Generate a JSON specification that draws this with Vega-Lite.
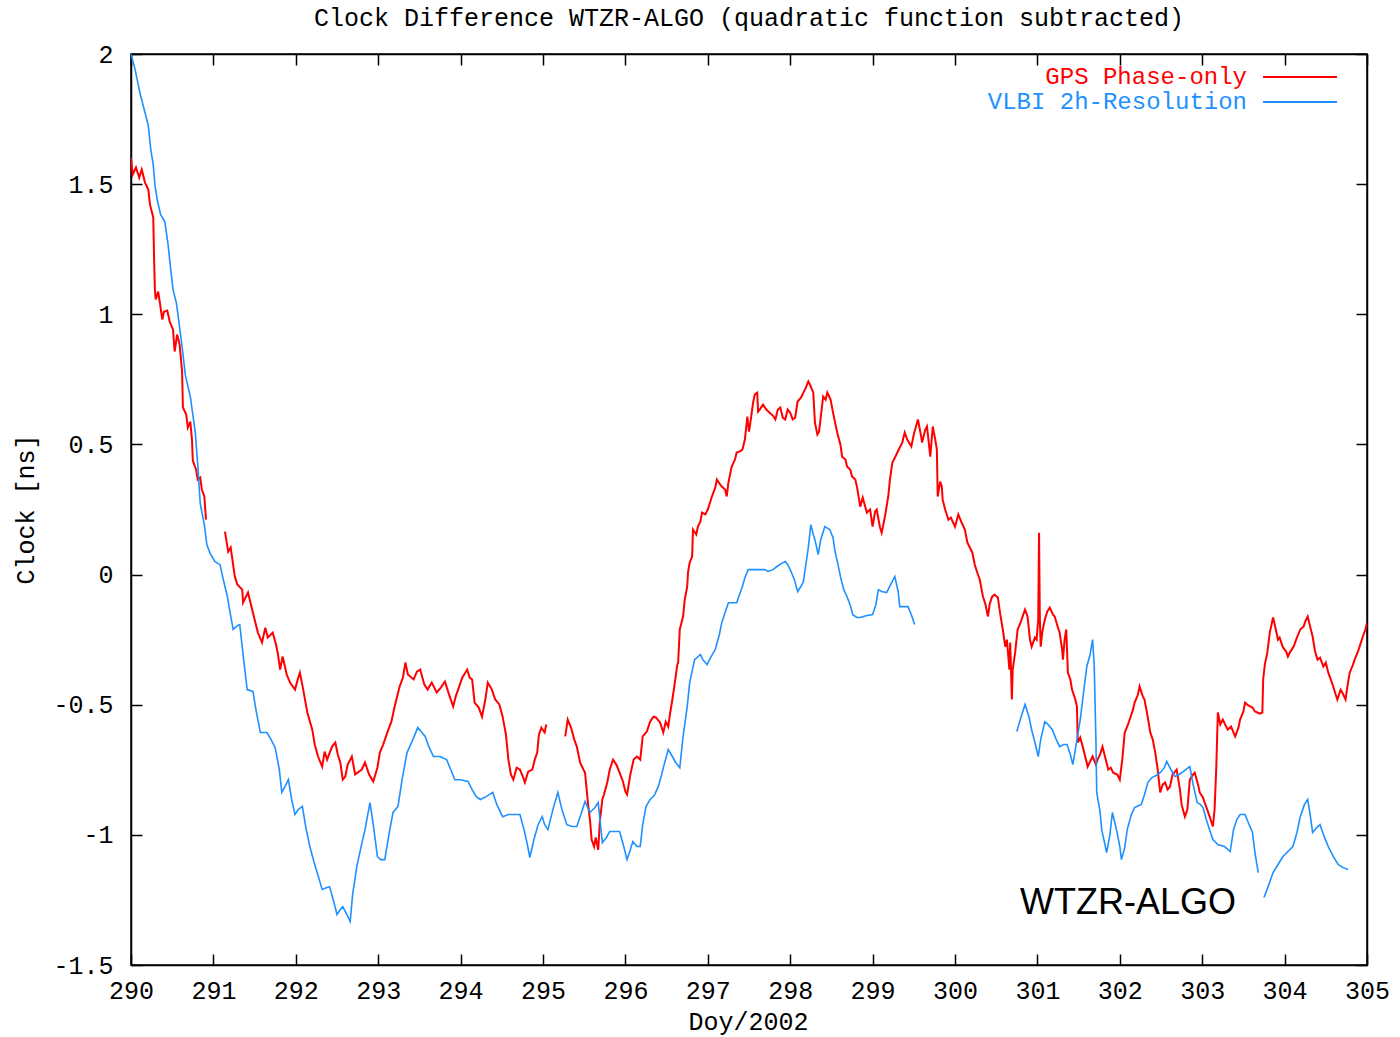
{
"$schema": "https://vega.github.io/schema/vega-lite/v6.json",
"width": 1236, "height": 911,
"autosize": {"type": "none"},
"padding": {"left": 131, "top": 54, "right": 33, "bottom": 72},
"background": "white",
"title": {"text": "Clock Difference WTZR-ALGO (quadratic function subtracted)", "font": "Liberation Mono", "fontSize": 25, "fontWeight": "normal", "color": "black", "anchor": "middle", "frame": "group", "offset": 8},
"config": {
  "view": {"stroke": "black", "strokeWidth": 1.5},
  "axis": {"grid": false, "domainColor": "black", "domainWidth": 1.5, "tickColor": "black", "tickWidth": 1.5, "tickSize": -11, "labelFont": "Liberation Mono", "labelFontSize": 25, "labelColor": "black", "titleFont": "Liberation Mono", "titleFontSize": 25, "titleFontWeight": "normal", "titleColor": "black", "labelOverlap": false, "labelFlush": false},
  "legend": {"orient": "none", "title": null, "padding": 0, "symbolType": "stroke", "symbolSize": 5476, "symbolStrokeWidth": 2, "labelAlign": "right", "labelOffset": -91, "labelFont": "Liberation Mono", "labelFontSize": 24, "labelLimit": 0}
},
"datasets": {
"gps": [
{"seg":1,"day":290.00,"clock":1.602},{"seg":1,"day":290.02,"clock":1.537},{"seg":1,"day":290.06,"clock":1.564},{"seg":1,"day":290.10,"clock":1.525},{"seg":1,"day":290.13,"clock":1.556},{"seg":1,"day":290.17,"clock":1.506},{"seg":1,"day":290.21,"clock":1.479},{"seg":1,"day":290.23,"clock":1.422},{"seg":1,"day":290.27,"clock":1.372},{"seg":1,"day":290.28,"clock":1.218},{"seg":1,"day":290.29,"clock":1.095},{"seg":1,"day":290.30,"clock":1.057},{"seg":1,"day":290.33,"clock":1.087},{"seg":1,"day":290.35,"clock":1.045},{"seg":1,"day":290.38,"clock":0.980},{"seg":1,"day":290.40,"clock":1.010},{"seg":1,"day":290.44,"clock":1.014},{"seg":1,"day":290.47,"clock":0.972},{"seg":1,"day":290.51,"clock":0.941},{"seg":1,"day":290.53,"clock":0.857},{"seg":1,"day":290.56,"clock":0.922},{"seg":1,"day":290.59,"clock":0.884},{"seg":1,"day":290.62,"clock":0.780},{"seg":1,"day":290.63,"clock":0.642},{"seg":1,"day":290.67,"clock":0.615},{"seg":1,"day":290.69,"clock":0.565},{"seg":1,"day":290.72,"clock":0.588},{"seg":1,"day":290.74,"clock":0.519},{"seg":1,"day":290.75,"clock":0.438},{"seg":1,"day":290.79,"clock":0.403},{"seg":1,"day":290.81,"clock":0.365},{"seg":1,"day":290.84,"clock":0.373},{"seg":1,"day":290.86,"clock":0.327},{"seg":1,"day":290.89,"clock":0.300},{"seg":1,"day":290.91,"clock":0.211},
{"seg":2,"day":291.14,"clock":0.165},{"seg":2,"day":291.18,"clock":0.088},{"seg":2,"day":291.21,"clock":0.104},{"seg":2,"day":291.26,"clock":-0.008},{"seg":2,"day":291.29,"clock":-0.038},{"seg":2,"day":291.35,"clock":-0.058},{"seg":2,"day":291.36,"clock":-0.108},{"seg":2,"day":291.42,"clock":-0.069},{"seg":2,"day":291.47,"clock":-0.134},{"seg":2,"day":291.50,"clock":-0.173},{"seg":2,"day":291.54,"clock":-0.223},{"seg":2,"day":291.59,"clock":-0.261},{"seg":2,"day":291.63,"clock":-0.204},{"seg":2,"day":291.66,"clock":-0.242},{"seg":2,"day":291.72,"clock":-0.223},{"seg":2,"day":291.76,"clock":-0.269},{"seg":2,"day":291.78,"clock":-0.300},{"seg":2,"day":291.81,"clock":-0.365},{"seg":2,"day":291.84,"clock":-0.315},{"seg":2,"day":291.89,"clock":-0.384},{"seg":2,"day":291.93,"clock":-0.415},{"seg":2,"day":291.99,"clock":-0.442},{"seg":2,"day":292.03,"clock":-0.396},{"seg":2,"day":292.05,"clock":-0.377},{"seg":2,"day":292.09,"clock":-0.442},{"seg":2,"day":292.14,"clock":-0.530},{"seg":2,"day":292.20,"clock":-0.596},{"seg":2,"day":292.23,"clock":-0.653},{"seg":2,"day":292.27,"clock":-0.699},{"seg":2,"day":292.32,"clock":-0.738},{"seg":2,"day":292.35,"clock":-0.680},{"seg":2,"day":292.38,"clock":-0.711},{"seg":2,"day":292.44,"clock":-0.661},{"seg":2,"day":292.48,"clock":-0.645},{"seg":2,"day":292.51,"clock":-0.692},{"seg":2,"day":292.54,"clock":-0.722},{"seg":2,"day":292.57,"clock":-0.788},{"seg":2,"day":292.60,"clock":-0.776},{"seg":2,"day":292.63,"clock":-0.730},{"seg":2,"day":292.68,"clock":-0.699},{"seg":2,"day":292.72,"clock":-0.768},{"seg":2,"day":292.75,"clock":-0.761},{"seg":2,"day":292.80,"clock":-0.749},{"seg":2,"day":292.84,"clock":-0.722},{"seg":2,"day":292.89,"clock":-0.768},{"seg":2,"day":292.94,"clock":-0.795},{"seg":2,"day":292.99,"clock":-0.742},{"seg":2,"day":293.02,"clock":-0.684},{"seg":2,"day":293.06,"clock":-0.653},{"seg":2,"day":293.11,"clock":-0.607},{"seg":2,"day":293.16,"clock":-0.565},{"seg":2,"day":293.20,"clock":-0.507},{"seg":2,"day":293.26,"clock":-0.430},{"seg":2,"day":293.30,"clock":-0.396},{"seg":2,"day":293.33,"clock":-0.338},{"seg":2,"day":293.36,"clock":-0.384},{"seg":2,"day":293.43,"clock":-0.403},{"seg":2,"day":293.47,"clock":-0.373},{"seg":2,"day":293.51,"clock":-0.365},{"seg":2,"day":293.56,"clock":-0.423},{"seg":2,"day":293.60,"clock":-0.442},{"seg":2,"day":293.65,"clock":-0.415},{"seg":2,"day":293.71,"clock":-0.453},{"seg":2,"day":293.76,"clock":-0.434},{"seg":2,"day":293.81,"clock":-0.411},{"seg":2,"day":293.86,"clock":-0.461},{"seg":2,"day":293.91,"clock":-0.507},{"seg":2,"day":293.94,"clock":-0.469},{"seg":2,"day":293.97,"clock":-0.442},{"seg":2,"day":294.02,"clock":-0.396},{"seg":2,"day":294.08,"clock":-0.365},{"seg":2,"day":294.11,"clock":-0.396},{"seg":2,"day":294.14,"clock":-0.403},{"seg":2,"day":294.17,"clock":-0.492},{"seg":2,"day":294.22,"clock":-0.511},{"seg":2,"day":294.26,"clock":-0.546},{"seg":2,"day":294.30,"clock":-0.480},{"seg":2,"day":294.33,"clock":-0.415},{"seg":2,"day":294.38,"clock":-0.442},{"seg":2,"day":294.42,"clock":-0.480},{"seg":2,"day":294.47,"clock":-0.499},{"seg":2,"day":294.51,"clock":-0.546},{"seg":2,"day":294.55,"clock":-0.615},{"seg":2,"day":294.58,"clock":-0.711},{"seg":2,"day":294.61,"clock":-0.768},{"seg":2,"day":294.64,"clock":-0.788},{"seg":2,"day":294.68,"clock":-0.742},{"seg":2,"day":294.72,"clock":-0.749},{"seg":2,"day":294.76,"clock":-0.780},{"seg":2,"day":294.78,"clock":-0.799},{"seg":2,"day":294.82,"clock":-0.757},{"seg":2,"day":294.87,"clock":-0.749},{"seg":2,"day":294.90,"clock":-0.711},{"seg":2,"day":294.93,"clock":-0.684},{"seg":2,"day":294.95,"clock":-0.615},{"seg":2,"day":294.98,"clock":-0.588},{"seg":2,"day":295.02,"clock":-0.607},{"seg":2,"day":295.04,"clock":-0.576},
{"seg":3,"day":295.27,"clock":-0.622},{"seg":3,"day":295.30,"clock":-0.557},{"seg":3,"day":295.34,"clock":-0.588},{"seg":3,"day":295.38,"clock":-0.634},{"seg":3,"day":295.41,"clock":-0.661},{"seg":3,"day":295.45,"clock":-0.722},{"seg":3,"day":295.49,"clock":-0.749},{"seg":3,"day":295.51,"clock":-0.761},{"seg":3,"day":295.53,"clock":-0.826},{"seg":3,"day":295.55,"clock":-0.891},{"seg":3,"day":295.57,"clock":-0.941},{"seg":3,"day":295.59,"clock":-1.018},{"seg":3,"day":295.62,"clock":-1.045},{"seg":3,"day":295.64,"clock":-1.010},{"seg":3,"day":295.67,"clock":-1.057},{"seg":3,"day":295.69,"clock":-0.949},{"seg":3,"day":295.72,"clock":-0.864},{"seg":3,"day":295.74,"clock":-0.845},{"seg":3,"day":295.78,"clock":-0.799},{"seg":3,"day":295.81,"clock":-0.749},{"seg":3,"day":295.85,"clock":-0.711},{"seg":3,"day":295.89,"clock":-0.730},{"seg":3,"day":295.93,"clock":-0.761},{"seg":3,"day":295.97,"clock":-0.795},{"seg":3,"day":296.00,"clock":-0.834},{"seg":3,"day":296.02,"clock":-0.845},{"seg":3,"day":296.06,"clock":-0.768},{"seg":3,"day":296.10,"clock":-0.711},{"seg":3,"day":296.14,"clock":-0.699},{"seg":3,"day":296.18,"clock":-0.711},{"seg":3,"day":296.21,"clock":-0.622},{"seg":3,"day":296.26,"clock":-0.603},{"seg":3,"day":296.30,"clock":-0.565},{"seg":3,"day":296.34,"clock":-0.546},{"seg":3,"day":296.37,"clock":-0.549},{"seg":3,"day":296.42,"clock":-0.568},{"seg":3,"day":296.46,"clock":-0.607},{"seg":3,"day":296.49,"clock":-0.565},{"seg":3,"day":296.52,"clock":-0.584},{"seg":3,"day":296.54,"clock":-0.538},{"seg":3,"day":296.57,"clock":-0.480},{"seg":3,"day":296.60,"clock":-0.415},{"seg":3,"day":296.63,"clock":-0.346},{"seg":3,"day":296.64,"clock":-0.338},{"seg":3,"day":296.66,"clock":-0.211},{"seg":3,"day":296.70,"clock":-0.161},{"seg":3,"day":296.72,"clock":-0.096},{"seg":3,"day":296.75,"clock":-0.046},{"seg":3,"day":296.76,"clock":0.008},{"seg":3,"day":296.78,"clock":0.046},{"seg":3,"day":296.81,"clock":0.069},{"seg":3,"day":296.82,"clock":0.173},{"seg":3,"day":296.86,"clock":0.154},{"seg":3,"day":296.88,"clock":0.184},{"seg":3,"day":296.91,"clock":0.204},{"seg":3,"day":296.93,"clock":0.238},{"seg":3,"day":296.97,"clock":0.231},{"seg":3,"day":297.00,"clock":0.250},{"seg":3,"day":297.05,"clock":0.300},{"seg":3,"day":297.09,"clock":0.334},{"seg":3,"day":297.11,"clock":0.365},{"seg":3,"day":297.15,"clock":0.346},{"seg":3,"day":297.17,"clock":0.338},{"seg":3,"day":297.21,"clock":0.327},{"seg":3,"day":297.23,"clock":0.300},{"seg":3,"day":297.25,"clock":0.353},{"seg":3,"day":297.29,"clock":0.415},{"seg":3,"day":297.33,"clock":0.442},{"seg":3,"day":297.35,"clock":0.469},{"seg":3,"day":297.39,"clock":0.473},{"seg":3,"day":297.42,"clock":0.480},{"seg":3,"day":297.45,"clock":0.519},{"seg":3,"day":297.48,"clock":0.607},{"seg":3,"day":297.50,"clock":0.549},{"seg":3,"day":297.51,"clock":0.569},{"seg":3,"day":297.55,"clock":0.661},{"seg":3,"day":297.57,"clock":0.692},{"seg":3,"day":297.60,"clock":0.699},{"seg":3,"day":297.61,"clock":0.626},{"seg":3,"day":297.63,"clock":0.634},{"seg":3,"day":297.67,"clock":0.653},{"seg":3,"day":297.71,"clock":0.634},{"seg":3,"day":297.75,"clock":0.622},{"seg":3,"day":297.79,"clock":0.611},{"seg":3,"day":297.82,"clock":0.596},{"seg":3,"day":297.85,"clock":0.634},{"seg":3,"day":297.88,"clock":0.642},{"seg":3,"day":297.91,"clock":0.603},{"seg":3,"day":297.94,"clock":0.596},{"seg":3,"day":297.97,"clock":0.634},{"seg":3,"day":298.00,"clock":0.622},{"seg":3,"day":298.03,"clock":0.596},{"seg":3,"day":298.06,"clock":0.603},{"seg":3,"day":298.09,"clock":0.665},{"seg":3,"day":298.13,"clock":0.680},{"seg":3,"day":298.16,"clock":0.699},{"seg":3,"day":298.19,"clock":0.718},{"seg":3,"day":298.22,"clock":0.742},{"seg":3,"day":298.24,"clock":0.730},{"seg":3,"day":298.28,"clock":0.699},{"seg":3,"day":298.30,"clock":0.584},{"seg":3,"day":298.33,"clock":0.538},{"seg":3,"day":298.35,"clock":0.549},{"seg":3,"day":298.40,"clock":0.684},{"seg":3,"day":298.43,"clock":0.672},{"seg":3,"day":298.45,"clock":0.699},{"seg":3,"day":298.49,"clock":0.672},{"seg":3,"day":298.52,"clock":0.622},{"seg":3,"day":298.57,"clock":0.546},{"seg":3,"day":298.61,"clock":0.499},{"seg":3,"day":298.63,"clock":0.453},{"seg":3,"day":298.67,"clock":0.442},{"seg":3,"day":298.69,"clock":0.415},{"seg":3,"day":298.73,"clock":0.403},{"seg":3,"day":298.75,"clock":0.377},{"seg":3,"day":298.79,"clock":0.365},{"seg":3,"day":298.81,"clock":0.338},{"seg":3,"day":298.85,"clock":0.261},{"seg":3,"day":298.88,"clock":0.296},{"seg":3,"day":298.93,"clock":0.238},{"seg":3,"day":298.97,"clock":0.250},{"seg":3,"day":299.00,"clock":0.184},{"seg":3,"day":299.03,"clock":0.242},{"seg":3,"day":299.05,"clock":0.250},{"seg":3,"day":299.09,"clock":0.181},{"seg":3,"day":299.11,"clock":0.161},{"seg":3,"day":299.15,"clock":0.223},{"seg":3,"day":299.19,"clock":0.300},{"seg":3,"day":299.21,"clock":0.365},{"seg":3,"day":299.24,"clock":0.430},{"seg":3,"day":299.27,"clock":0.449},{"seg":3,"day":299.30,"clock":0.469},{"seg":3,"day":299.33,"clock":0.488},{"seg":3,"day":299.36,"clock":0.507},{"seg":3,"day":299.39,"clock":0.546},{"seg":3,"day":299.42,"clock":0.519},{"seg":3,"day":299.47,"clock":0.492},{"seg":3,"day":299.50,"clock":0.538},{"seg":3,"day":299.55,"clock":0.596},{"seg":3,"day":299.59,"clock":0.530},{"seg":3,"day":299.60,"clock":0.507},{"seg":3,"day":299.64,"clock":0.557},{"seg":3,"day":299.66,"clock":0.569},{"seg":3,"day":299.70,"clock":0.453},{"seg":3,"day":299.73,"clock":0.569},{"seg":3,"day":299.76,"clock":0.519},{"seg":3,"day":299.78,"clock":0.480},{"seg":3,"day":299.79,"clock":0.300},{"seg":3,"day":299.82,"clock":0.357},{"seg":3,"day":299.84,"clock":0.338},{"seg":3,"day":299.85,"clock":0.288},{"seg":3,"day":299.88,"clock":0.250},{"seg":3,"day":299.90,"clock":0.231},{"seg":3,"day":299.92,"clock":0.211},{"seg":3,"day":299.95,"clock":0.219},{"seg":3,"day":300.00,"clock":0.184},{"seg":3,"day":300.04,"clock":0.231},{"seg":3,"day":300.08,"clock":0.200},{"seg":3,"day":300.12,"clock":0.173},{"seg":3,"day":300.15,"clock":0.123},{"seg":3,"day":300.18,"clock":0.104},{"seg":3,"day":300.21,"clock":0.085},{"seg":3,"day":300.24,"clock":0.038},{"seg":3,"day":300.27,"clock":0.008},{"seg":3,"day":300.30,"clock":-0.019},{"seg":3,"day":300.34,"clock":-0.085},{"seg":3,"day":300.37,"clock":-0.115},{"seg":3,"day":300.40,"clock":-0.161},{"seg":3,"day":300.42,"clock":-0.115},{"seg":3,"day":300.45,"clock":-0.085},{"seg":3,"day":300.48,"clock":-0.077},{"seg":3,"day":300.52,"clock":-0.088},{"seg":3,"day":300.55,"clock":-0.154},{"seg":3,"day":300.58,"clock":-0.211},{"seg":3,"day":300.61,"clock":-0.277},{"seg":3,"day":300.63,"clock":-0.250},{"seg":3,"day":300.66,"clock":-0.365},{"seg":3,"day":300.67,"clock":-0.261},{"seg":3,"day":300.69,"clock":-0.480},{"seg":3,"day":300.70,"clock":-0.365},{"seg":3,"day":300.73,"clock":-0.300},{"seg":3,"day":300.76,"clock":-0.211},{"seg":3,"day":300.80,"clock":-0.181},{"seg":3,"day":300.85,"clock":-0.134},{"seg":3,"day":300.88,"clock":-0.161},{"seg":3,"day":300.91,"clock":-0.250},{"seg":3,"day":300.93,"clock":-0.277},{"seg":3,"day":300.97,"clock":-0.242},{"seg":3,"day":300.99,"clock":-0.250},{"seg":3,"day":301.01,"clock":-0.173},{"seg":3,"day":301.02,"clock":0.161},{"seg":3,"day":301.03,"clock":-0.173},{"seg":3,"day":301.04,"clock":-0.277},{"seg":3,"day":301.06,"clock":-0.219},{"seg":3,"day":301.09,"clock":-0.173},{"seg":3,"day":301.12,"clock":-0.142},{"seg":3,"day":301.15,"clock":-0.127},{"seg":3,"day":301.19,"clock":-0.154},{"seg":3,"day":301.21,"clock":-0.161},{"seg":3,"day":301.25,"clock":-0.204},{"seg":3,"day":301.27,"clock":-0.223},{"seg":3,"day":301.30,"clock":-0.288},{"seg":3,"day":301.31,"clock":-0.327},{"seg":3,"day":301.33,"clock":-0.250},{"seg":3,"day":301.35,"clock":-0.211},{"seg":3,"day":301.37,"clock":-0.377},{"seg":3,"day":301.40,"clock":-0.403},{"seg":3,"day":301.42,"clock":-0.442},{"seg":3,"day":301.46,"clock":-0.480},{"seg":3,"day":301.48,"clock":-0.507},{"seg":3,"day":301.49,"clock":-0.645},{"seg":3,"day":301.52,"clock":-0.626},{"seg":3,"day":301.55,"clock":-0.661},{"seg":3,"day":301.59,"clock":-0.711},{"seg":3,"day":301.61,"clock":-0.738},{"seg":3,"day":301.64,"clock":-0.718},{"seg":3,"day":301.67,"clock":-0.699},{"seg":3,"day":301.71,"clock":-0.730},{"seg":3,"day":301.73,"clock":-0.711},{"seg":3,"day":301.76,"clock":-0.692},{"seg":3,"day":301.79,"clock":-0.661},{"seg":3,"day":301.83,"clock":-0.711},{"seg":3,"day":301.86,"clock":-0.749},{"seg":3,"day":301.89,"clock":-0.742},{"seg":3,"day":301.92,"clock":-0.761},{"seg":3,"day":301.97,"clock":-0.768},{"seg":3,"day":302.00,"clock":-0.788},{"seg":3,"day":302.03,"clock":-0.711},{"seg":3,"day":302.06,"clock":-0.607},{"seg":3,"day":302.10,"clock":-0.576},{"seg":3,"day":302.12,"clock":-0.557},{"seg":3,"day":302.16,"clock":-0.519},{"seg":3,"day":302.18,"clock":-0.492},{"seg":3,"day":302.22,"clock":-0.461},{"seg":3,"day":302.24,"clock":-0.430},{"seg":3,"day":302.28,"clock":-0.469},{"seg":3,"day":302.30,"clock":-0.480},{"seg":3,"day":302.34,"clock":-0.549},{"seg":3,"day":302.37,"clock":-0.607},{"seg":3,"day":302.40,"clock":-0.634},{"seg":3,"day":302.43,"clock":-0.684},{"seg":3,"day":302.46,"clock":-0.749},{"seg":3,"day":302.49,"clock":-0.837},{"seg":3,"day":302.52,"clock":-0.807},{"seg":3,"day":302.55,"clock":-0.799},{"seg":3,"day":302.58,"clock":-0.826},{"seg":3,"day":302.61,"clock":-0.814},{"seg":3,"day":302.64,"clock":-0.768},{"seg":3,"day":302.67,"clock":-0.757},{"seg":3,"day":302.69,"clock":-0.749},{"seg":3,"day":302.73,"clock":-0.826},{"seg":3,"day":302.75,"clock":-0.884},{"seg":3,"day":302.79,"clock":-0.930},{"seg":3,"day":302.82,"clock":-0.903},{"seg":3,"day":302.85,"clock":-0.788},{"seg":3,"day":302.89,"clock":-0.768},{"seg":3,"day":302.91,"clock":-0.761},{"seg":3,"day":302.95,"clock":-0.807},{"seg":3,"day":302.97,"clock":-0.837},{"seg":3,"day":303.01,"clock":-0.857},{"seg":3,"day":303.03,"clock":-0.876},{"seg":3,"day":303.07,"clock":-0.911},{"seg":3,"day":303.09,"clock":-0.930},{"seg":3,"day":303.13,"clock":-0.968},{"seg":3,"day":303.15,"clock":-0.903},{"seg":3,"day":303.17,"clock":-0.749},{"seg":3,"day":303.19,"clock":-0.530},{"seg":3,"day":303.22,"clock":-0.576},{"seg":3,"day":303.25,"clock":-0.557},{"seg":3,"day":303.29,"clock":-0.584},{"seg":3,"day":303.31,"clock":-0.596},{"seg":3,"day":303.35,"clock":-0.584},{"seg":3,"day":303.40,"clock":-0.622},{"seg":3,"day":303.44,"clock":-0.588},{"seg":3,"day":303.46,"clock":-0.557},{"seg":3,"day":303.50,"clock":-0.526},{"seg":3,"day":303.52,"clock":-0.492},{"seg":3,"day":303.56,"clock":-0.503},{"seg":3,"day":303.61,"clock":-0.511},{"seg":3,"day":303.64,"clock":-0.526},{"seg":3,"day":303.67,"clock":-0.530},{"seg":3,"day":303.70,"clock":-0.534},{"seg":3,"day":303.73,"clock":-0.530},{"seg":3,"day":303.74,"clock":-0.403},{"seg":3,"day":303.76,"clock":-0.346},{"seg":3,"day":303.79,"clock":-0.300},{"seg":3,"day":303.82,"clock":-0.223},{"seg":3,"day":303.86,"clock":-0.165},{"seg":3,"day":303.88,"clock":-0.192},{"seg":3,"day":303.92,"clock":-0.250},{"seg":3,"day":303.94,"clock":-0.242},{"seg":3,"day":303.98,"clock":-0.280},{"seg":3,"day":304.02,"clock":-0.296},{"seg":3,"day":304.04,"clock":-0.315},{"seg":3,"day":304.07,"clock":-0.296},{"seg":3,"day":304.11,"clock":-0.277},{"seg":3,"day":304.14,"clock":-0.250},{"seg":3,"day":304.19,"clock":-0.211},{"seg":3,"day":304.23,"clock":-0.200},{"seg":3,"day":304.25,"clock":-0.181},{"seg":3,"day":304.28,"clock":-0.161},{"seg":3,"day":304.31,"clock":-0.200},{"seg":3,"day":304.34,"clock":-0.238},{"seg":3,"day":304.37,"clock":-0.296},{"seg":3,"day":304.40,"clock":-0.327},{"seg":3,"day":304.43,"clock":-0.319},{"seg":3,"day":304.47,"clock":-0.353},{"seg":3,"day":304.50,"clock":-0.338},{"seg":3,"day":304.53,"clock":-0.377},{"seg":3,"day":304.56,"clock":-0.403},{"seg":3,"day":304.59,"clock":-0.430},{"seg":3,"day":304.62,"clock":-0.461},{"seg":3,"day":304.64,"clock":-0.480},{"seg":3,"day":304.68,"clock":-0.442},{"seg":3,"day":304.70,"clock":-0.453},{"seg":3,"day":304.74,"clock":-0.480},{"seg":3,"day":304.76,"clock":-0.434},{"seg":3,"day":304.79,"clock":-0.377},{"seg":3,"day":304.83,"clock":-0.346},{"seg":3,"day":304.85,"clock":-0.327},{"seg":3,"day":304.89,"clock":-0.296},{"seg":3,"day":304.91,"clock":-0.277},{"seg":3,"day":304.95,"clock":-0.238},{"seg":3,"day":304.98,"clock":-0.211},{"seg":3,"day":305.00,"clock":-0.184}
],
"vlbi": [
{"seg":1,"day":290.00,"clock":2.000},{"seg":1,"day":290.05,"clock":1.940},{"seg":1,"day":290.11,"clock":1.848},{"seg":1,"day":290.16,"clock":1.787},{"seg":1,"day":290.21,"clock":1.725},{"seg":1,"day":290.24,"clock":1.633},{"seg":1,"day":290.27,"clock":1.575},{"seg":1,"day":290.29,"clock":1.498},{"seg":1,"day":290.32,"clock":1.437},{"seg":1,"day":290.36,"clock":1.383},{"seg":1,"day":290.41,"clock":1.356},{"seg":1,"day":290.45,"clock":1.268},{"seg":1,"day":290.47,"clock":1.206},{"seg":1,"day":290.51,"clock":1.095},{"seg":1,"day":290.55,"clock":1.045},{"seg":1,"day":290.57,"clock":0.999},{"seg":1,"day":290.62,"clock":0.876},{"seg":1,"day":290.66,"clock":0.765},{"seg":1,"day":290.72,"clock":0.684},{"seg":1,"day":290.75,"clock":0.615},{"seg":1,"day":290.78,"clock":0.546},{"seg":1,"day":290.81,"clock":0.423},{"seg":1,"day":290.84,"clock":0.273},{"seg":1,"day":290.89,"clock":0.192},{"seg":1,"day":290.92,"clock":0.115},{"seg":1,"day":290.96,"clock":0.081},{"seg":1,"day":291.02,"clock":0.050},{"seg":1,"day":291.08,"clock":0.038},{"seg":1,"day":291.12,"clock":-0.019},{"seg":1,"day":291.17,"clock":-0.085},{"seg":1,"day":291.20,"clock":-0.142},{"seg":1,"day":291.24,"clock":-0.211},{"seg":1,"day":291.29,"clock":-0.196},{"seg":1,"day":291.32,"clock":-0.192},{"seg":1,"day":291.36,"clock":-0.307},{"seg":1,"day":291.41,"clock":-0.442},{"seg":1,"day":291.48,"clock":-0.449},{"seg":1,"day":291.52,"clock":-0.526},{"seg":1,"day":291.57,"clock":-0.607},{"seg":1,"day":291.65,"clock":-0.607},{"seg":1,"day":291.70,"clock":-0.634},{"seg":1,"day":291.75,"clock":-0.665},{"seg":1,"day":291.80,"clock":-0.749},{"seg":1,"day":291.83,"clock":-0.837},{"seg":1,"day":291.87,"clock":-0.814},{"seg":1,"day":291.91,"clock":-0.788},{"seg":1,"day":291.95,"clock":-0.864},{"seg":1,"day":291.99,"clock":-0.922},{"seg":1,"day":292.03,"clock":-0.903},{"seg":1,"day":292.08,"clock":-0.891},{"seg":1,"day":292.12,"clock":-0.968},{"seg":1,"day":292.17,"clock":-1.045},{"seg":1,"day":292.22,"clock":-1.103},{"seg":1,"day":292.27,"clock":-1.156},{"seg":1,"day":292.32,"clock":-1.210},{"seg":1,"day":292.37,"clock":-1.203},{"seg":1,"day":292.41,"clock":-1.199},{"seg":1,"day":292.46,"clock":-1.256},{"seg":1,"day":292.50,"clock":-1.306},{"seg":1,"day":292.54,"clock":-1.287},{"seg":1,"day":292.57,"clock":-1.276},{"seg":1,"day":292.62,"clock":-1.306},{"seg":1,"day":292.66,"clock":-1.333},{"seg":1,"day":292.69,"clock":-1.229},{"seg":1,"day":292.74,"clock":-1.122},{"seg":1,"day":292.79,"clock":-1.049},{"seg":1,"day":292.84,"clock":-0.980},{"seg":1,"day":292.90,"clock":-0.876},{"seg":1,"day":292.94,"clock":-0.961},{"seg":1,"day":292.99,"clock":-1.083},{"seg":1,"day":293.03,"clock":-1.095},{"seg":1,"day":293.08,"clock":-1.095},{"seg":1,"day":293.13,"clock":-0.999},{"seg":1,"day":293.18,"clock":-0.914},{"seg":1,"day":293.24,"clock":-0.891},{"seg":1,"day":293.29,"clock":-0.788},{"seg":1,"day":293.35,"clock":-0.684},{"seg":1,"day":293.41,"clock":-0.642},{"seg":1,"day":293.48,"clock":-0.588},{"seg":1,"day":293.53,"clock":-0.607},{"seg":1,"day":293.57,"clock":-0.622},{"seg":1,"day":293.62,"clock":-0.665},{"seg":1,"day":293.67,"clock":-0.699},{"seg":1,"day":293.75,"clock":-0.699},{"seg":1,"day":293.83,"clock":-0.711},{"seg":1,"day":293.88,"clock":-0.749},{"seg":1,"day":293.93,"clock":-0.788},{"seg":1,"day":294.00,"clock":-0.788},{"seg":1,"day":294.09,"clock":-0.795},{"seg":1,"day":294.14,"clock":-0.826},{"seg":1,"day":294.19,"clock":-0.853},{"seg":1,"day":294.24,"clock":-0.864},{"seg":1,"day":294.31,"clock":-0.853},{"seg":1,"day":294.39,"clock":-0.837},{"seg":1,"day":294.44,"clock":-0.884},{"seg":1,"day":294.51,"clock":-0.930},{"seg":1,"day":294.58,"clock":-0.922},{"seg":1,"day":294.65,"clock":-0.922},{"seg":1,"day":294.72,"clock":-0.922},{"seg":1,"day":294.77,"clock":-0.980},{"seg":1,"day":294.81,"clock":-1.037},{"seg":1,"day":294.84,"clock":-1.087},{"seg":1,"day":294.89,"clock":-1.018},{"seg":1,"day":294.94,"clock":-0.961},{"seg":1,"day":294.99,"clock":-0.930},{"seg":1,"day":295.02,"clock":-0.961},{"seg":1,"day":295.06,"clock":-0.980},{"seg":1,"day":295.12,"clock":-0.903},{"seg":1,"day":295.18,"clock":-0.837},{"seg":1,"day":295.23,"clock":-0.903},{"seg":1,"day":295.29,"clock":-0.961},{"seg":1,"day":295.35,"clock":-0.968},{"seg":1,"day":295.41,"clock":-0.968},{"seg":1,"day":295.46,"clock":-0.922},{"seg":1,"day":295.51,"clock":-0.872},{"seg":1,"day":295.57,"clock":-0.914},{"seg":1,"day":295.63,"clock":-0.895},{"seg":1,"day":295.67,"clock":-0.876},{"seg":1,"day":295.72,"clock":-1.030},{"seg":1,"day":295.77,"clock":-1.010},{"seg":1,"day":295.81,"clock":-0.987},{"seg":1,"day":295.87,"clock":-0.987},{"seg":1,"day":295.93,"clock":-0.987},{"seg":1,"day":295.98,"clock":-1.045},{"seg":1,"day":296.02,"clock":-1.095},{"seg":1,"day":296.06,"clock":-1.057},{"seg":1,"day":296.09,"clock":-1.026},{"seg":1,"day":296.14,"clock":-1.045},{"seg":1,"day":296.18,"clock":-1.045},{"seg":1,"day":296.21,"clock":-0.961},{"seg":1,"day":296.25,"clock":-0.891},{"seg":1,"day":296.30,"clock":-0.864},{"seg":1,"day":296.35,"clock":-0.849},{"seg":1,"day":296.40,"clock":-0.814},{"seg":1,"day":296.44,"clock":-0.768},{"seg":1,"day":296.47,"clock":-0.730},{"seg":1,"day":296.52,"clock":-0.672},{"seg":1,"day":296.57,"clock":-0.699},{"seg":1,"day":296.61,"clock":-0.722},{"seg":1,"day":296.66,"clock":-0.742},{"seg":1,"day":296.70,"clock":-0.622},{"seg":1,"day":296.75,"clock":-0.507},{"seg":1,"day":296.78,"clock":-0.415},{"seg":1,"day":296.84,"clock":-0.327},{"seg":1,"day":296.91,"clock":-0.307},{"seg":1,"day":296.94,"clock":-0.327},{"seg":1,"day":296.99,"clock":-0.346},{"seg":1,"day":297.04,"clock":-0.315},{"seg":1,"day":297.09,"clock":-0.288},{"seg":1,"day":297.14,"clock":-0.231},{"seg":1,"day":297.17,"clock":-0.184},{"seg":1,"day":297.21,"clock":-0.146},{"seg":1,"day":297.25,"clock":-0.108},{"seg":1,"day":297.31,"clock":-0.108},{"seg":1,"day":297.35,"clock":-0.108},{"seg":1,"day":297.42,"clock":-0.046},{"seg":1,"day":297.45,"clock":-0.012},{"seg":1,"day":297.49,"clock":0.019},{"seg":1,"day":297.55,"clock":0.019},{"seg":1,"day":297.60,"clock":0.019},{"seg":1,"day":297.65,"clock":0.019},{"seg":1,"day":297.69,"clock":0.019},{"seg":1,"day":297.73,"clock":0.012},{"seg":1,"day":297.79,"clock":0.019},{"seg":1,"day":297.84,"clock":0.031},{"seg":1,"day":297.89,"clock":0.042},{"seg":1,"day":297.94,"clock":0.050},{"seg":1,"day":297.97,"clock":0.038},{"seg":1,"day":298.00,"clock":0.019},{"seg":1,"day":298.05,"clock":-0.019},{"seg":1,"day":298.09,"clock":-0.065},{"seg":1,"day":298.13,"clock":-0.046},{"seg":1,"day":298.16,"clock":-0.027},{"seg":1,"day":298.19,"clock":0.038},{"seg":1,"day":298.22,"clock":0.104},{"seg":1,"day":298.25,"clock":0.192},{"seg":1,"day":298.28,"clock":0.154},{"seg":1,"day":298.30,"clock":0.134},{"seg":1,"day":298.34,"clock":0.077},{"seg":1,"day":298.37,"clock":0.134},{"seg":1,"day":298.42,"clock":0.184},{"seg":1,"day":298.48,"clock":0.173},{"seg":1,"day":298.52,"clock":0.142},{"seg":1,"day":298.54,"clock":0.096},{"seg":1,"day":298.58,"clock":0.038},{"seg":1,"day":298.61,"clock":-0.008},{"seg":1,"day":298.65,"clock":-0.058},{"seg":1,"day":298.69,"clock":-0.085},{"seg":1,"day":298.73,"clock":-0.119},{"seg":1,"day":298.76,"clock":-0.154},{"seg":1,"day":298.81,"clock":-0.165},{"seg":1,"day":298.85,"clock":-0.165},{"seg":1,"day":298.92,"clock":-0.158},{"seg":1,"day":299.00,"clock":-0.154},{"seg":1,"day":299.04,"clock":-0.115},{"seg":1,"day":299.07,"clock":-0.058},{"seg":1,"day":299.11,"clock":-0.065},{"seg":1,"day":299.17,"clock":-0.069},{"seg":1,"day":299.22,"clock":-0.038},{"seg":1,"day":299.27,"clock":-0.008},{"seg":1,"day":299.31,"clock":-0.065},{"seg":1,"day":299.33,"clock":-0.123},{"seg":1,"day":299.38,"clock":-0.123},{"seg":1,"day":299.43,"clock":-0.123},{"seg":1,"day":299.47,"clock":-0.154},{"seg":1,"day":299.51,"clock":-0.192},
{"seg":2,"day":300.75,"clock":-0.603},{"seg":2,"day":300.80,"clock":-0.549},{"seg":2,"day":300.85,"clock":-0.499},{"seg":2,"day":300.90,"clock":-0.549},{"seg":2,"day":300.93,"clock":-0.596},{"seg":2,"day":300.97,"clock":-0.645},{"seg":2,"day":301.01,"clock":-0.699},{"seg":2,"day":301.04,"clock":-0.634},{"seg":2,"day":301.09,"clock":-0.565},{"seg":2,"day":301.13,"clock":-0.576},{"seg":2,"day":301.18,"clock":-0.596},{"seg":2,"day":301.23,"clock":-0.634},{"seg":2,"day":301.27,"clock":-0.661},{"seg":2,"day":301.32,"clock":-0.653},{"seg":2,"day":301.36,"clock":-0.653},{"seg":2,"day":301.40,"clock":-0.692},{"seg":2,"day":301.43,"clock":-0.730},{"seg":2,"day":301.48,"clock":-0.634},{"seg":2,"day":301.52,"clock":-0.557},{"seg":2,"day":301.56,"clock":-0.453},{"seg":2,"day":301.60,"clock":-0.353},{"seg":2,"day":301.64,"clock":-0.307},{"seg":2,"day":301.67,"clock":-0.250},{"seg":2,"day":301.69,"clock":-0.353},{"seg":2,"day":301.71,"clock":-0.634},{"seg":2,"day":301.72,"clock":-0.837},{"seg":2,"day":301.76,"clock":-0.911},{"seg":2,"day":301.78,"clock":-0.980},{"seg":2,"day":301.82,"clock":-1.037},{"seg":2,"day":301.84,"clock":-1.068},{"seg":2,"day":301.88,"clock":-0.999},{"seg":2,"day":301.91,"clock":-0.914},{"seg":2,"day":301.96,"clock":-0.980},{"seg":2,"day":302.00,"clock":-1.045},{"seg":2,"day":302.02,"clock":-1.095},{"seg":2,"day":302.06,"clock":-1.049},{"seg":2,"day":302.09,"clock":-0.980},{"seg":2,"day":302.14,"clock":-0.922},{"seg":2,"day":302.18,"clock":-0.895},{"seg":2,"day":302.23,"clock":-0.887},{"seg":2,"day":302.26,"clock":-0.884},{"seg":2,"day":302.30,"clock":-0.845},{"seg":2,"day":302.34,"clock":-0.799},{"seg":2,"day":302.39,"clock":-0.780},{"seg":2,"day":302.44,"clock":-0.772},{"seg":2,"day":302.49,"clock":-0.761},{"seg":2,"day":302.54,"clock":-0.742},{"seg":2,"day":302.57,"clock":-0.718},{"seg":2,"day":302.62,"clock":-0.749},{"seg":2,"day":302.67,"clock":-0.776},{"seg":2,"day":302.72,"clock":-0.768},{"seg":2,"day":302.77,"clock":-0.757},{"seg":2,"day":302.82,"clock":-0.745},{"seg":2,"day":302.85,"clock":-0.738},{"seg":2,"day":302.89,"clock":-0.807},{"seg":2,"day":302.94,"clock":-0.876},{"seg":2,"day":302.98,"clock":-0.884},{"seg":2,"day":303.01,"clock":-0.895},{"seg":2,"day":303.05,"clock":-0.941},{"seg":2,"day":303.10,"clock":-0.991},{"seg":2,"day":303.13,"clock":-1.018},{"seg":2,"day":303.19,"clock":-1.037},{"seg":2,"day":303.27,"clock":-1.045},{"seg":2,"day":303.34,"clock":-1.064},{"seg":2,"day":303.38,"clock":-0.980},{"seg":2,"day":303.42,"clock":-0.941},{"seg":2,"day":303.46,"clock":-0.922},{"seg":2,"day":303.52,"clock":-0.922},{"seg":2,"day":303.57,"clock":-0.961},{"seg":2,"day":303.61,"clock":-0.991},{"seg":2,"day":303.64,"clock":-1.068},{"seg":2,"day":303.68,"clock":-1.145},
{"seg":3,"day":303.75,"clock":-1.241},{"seg":3,"day":303.80,"clock":-1.199},{"seg":3,"day":303.86,"clock":-1.145},{"seg":3,"day":303.92,"clock":-1.114},{"seg":3,"day":303.98,"clock":-1.083},{"seg":3,"day":304.04,"clock":-1.064},{"seg":3,"day":304.10,"clock":-1.045},{"seg":3,"day":304.15,"clock":-0.991},{"seg":3,"day":304.19,"clock":-0.930},{"seg":3,"day":304.24,"clock":-0.884},{"seg":3,"day":304.28,"clock":-0.864},{"seg":3,"day":304.31,"clock":-0.922},{"seg":3,"day":304.34,"clock":-0.991},{"seg":3,"day":304.39,"clock":-0.972},{"seg":3,"day":304.43,"clock":-0.961},{"seg":3,"day":304.48,"clock":-1.006},{"seg":3,"day":304.53,"clock":-1.045},{"seg":3,"day":304.59,"clock":-1.083},{"seg":3,"day":304.65,"clock":-1.114},{"seg":3,"day":304.71,"clock":-1.126},{"seg":3,"day":304.77,"clock":-1.133}
],
"note": [{"day": 302.1, "clock": -1.26, "label": "WTZR-ALGO"}]
},
"layer": [
  {
    "data": {"name": "gps"},
    "mark": {"type": "line", "strokeWidth": 2, "clip": true},
    "encoding": {
      "x": {"field": "day", "type": "quantitative", "scale": {"domain": [290, 305], "nice": false, "zero": false},
            "axis": {"orient": "bottom", "values": [290,291,292,293,294,295,296,297,298,299,300,301,302,303,304,305], "labelPadding": 24, "labelDx": 5, "title": "Doy/2002", "titleX": 617, "titleY": 56, "titleBaseline": "middle", "titleAlign": "center"}},
      "y": {"field": "clock", "type": "quantitative", "scale": {"domain": [-1.5, 2], "nice": false, "zero": false},
            "axis": {"orient": "left", "values": [-1.5,-1,-0.5,0,0.5,1,1.5,2], "labelExpr": "'' + datum.value", "labelPadding": 29, "title": "Clock [ns]", "titleX": -106, "titleY": 455, "titleBaseline": "middle", "titleAlign": "center", "titleAngle": -90}},
      "color": {"datum": "GPS Phase-only", "type": "nominal",
                "scale": {"domain": ["GPS Phase-only"], "range": ["#ff0000"]},
                "legend": {"legendX": 1131, "legendY": -15, "labelColor": "#ff0000"}},
      "detail": {"field": "seg", "type": "nominal"}
    }
  },
  {
    "data": {"name": "vlbi"},
    "mark": {"type": "line", "strokeWidth": 1.6, "clip": true},
    "encoding": {
      "x": {"field": "day", "type": "quantitative", "axis": null},
      "y": {"field": "clock", "type": "quantitative", "axis": null},
      "color": {"datum": "VLBI 2h-Resolution", "type": "nominal",
                "scale": {"domain": ["VLBI 2h-Resolution"], "range": ["#1e90ff"]},
                "legend": {"legendX": 1131, "legendY": 10, "labelColor": "#1e90ff"}},
      "detail": {"field": "seg", "type": "nominal"}
    }
  },
  {
    "data": {"name": "note"},
    "mark": {"type": "point", "opacity": 0},
    "encoding": {
      "x": {"field": "day", "type": "quantitative", "axis": {"orient": "top", "values": [290,291,292,293,294,295,296,297,298,299,300,301,302,303,304,305], "labels": false, "title": null}},
      "y": {"field": "clock", "type": "quantitative", "axis": {"orient": "right", "values": [-1.5,-1,-0.5,0,0.5,1,1.5,2], "labels": false, "title": null}}
    }
  },
  {
    "data": {"name": "note"},
    "mark": {"type": "text", "font": "Liberation Sans", "fontSize": 36, "align": "center", "baseline": "middle", "color": "black"},
    "encoding": {
      "x": {"field": "day", "type": "quantitative", "axis": null},
      "y": {"field": "clock", "type": "quantitative", "axis": null},
      "text": {"field": "label"}
    }
  }
],
"resolve": {"axis": {"x": "independent", "y": "independent"}, "scale": {"color": "independent"}}
}
